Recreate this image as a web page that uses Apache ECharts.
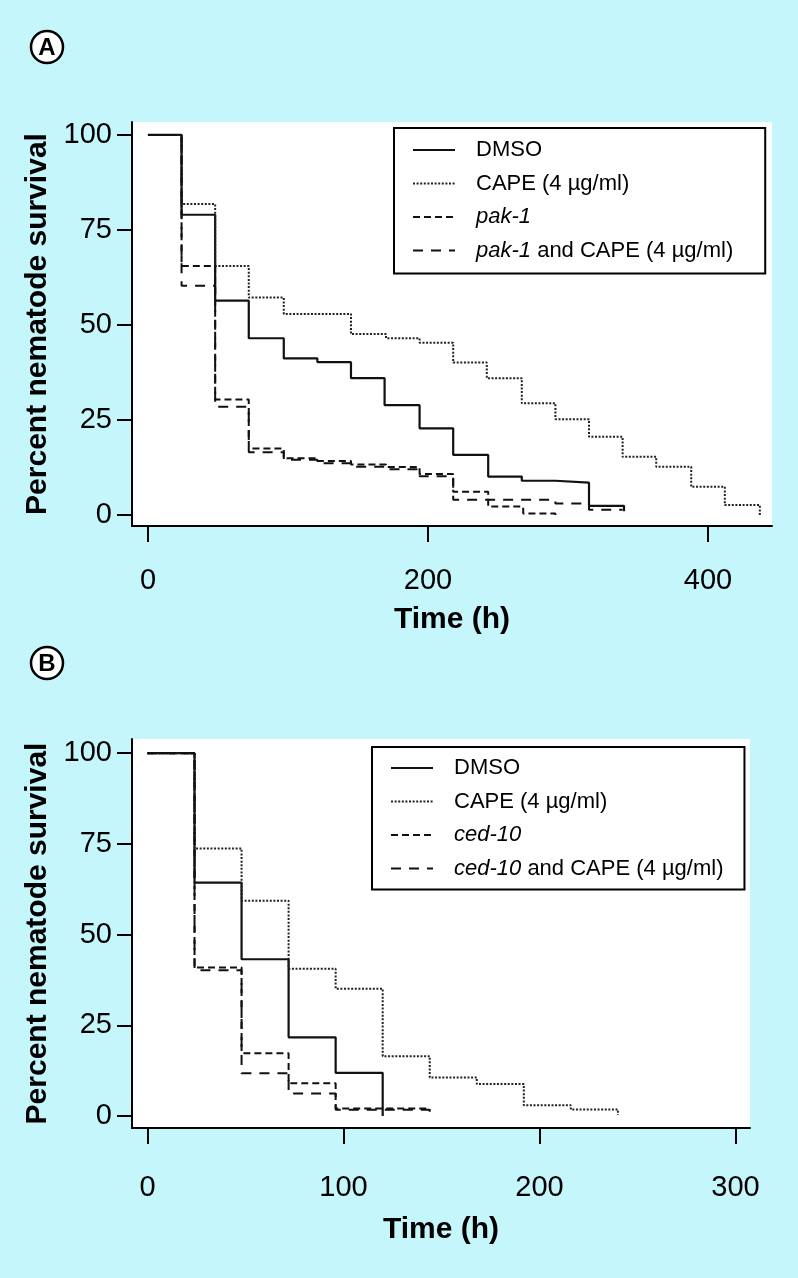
<!DOCTYPE html>
<html>
<head>
<meta charset="utf-8">
<script src="https://cdn.jsdelivr.net/npm/echarts@6/dist/echarts.min.js"></script>
<style>
  html, body { margin: 0; padding: 0; background: #c5f6fb; }
  #chart { width: 798px; height: 1278px; }
</style>
</head>
<body>
<div id="chart"></div>
<script>
// ---------- Panel A data (time in h, percent survival) ----------
const A_DMSO_T = [0, 24, 48, 72, 97, 121, 145, 169, 194, 218, 243, 267, 291, 315, 340];
const A_DMSO_S = [100, 79, 56.4, 46.5, 41.2, 40.2, 36.0, 28.9, 22.8, 15.8, 10.1, 9.0, 8.5, 2.4, 1.0];
const A_CAPE_T = [0, 24, 48, 72, 97, 145, 170, 194, 218, 242, 267, 291, 315, 339, 363, 388, 412, 437];
const A_CAPE_S = [100, 81.8, 65.5, 57.2, 52.9, 47.6, 46.5, 45.3, 40.1, 36.0, 29.4, 25.2, 20.6, 15.3, 12.7, 7.4, 2.6, 0];
const A_PAK_T = [0, 24, 48, 72, 97, 121, 145, 170, 194, 218, 243, 268, 291];
const A_PAK_S = [100, 65.5, 30.4, 17.5, 14.9, 14.2, 13.3, 12.6, 10.8, 6.1, 2.2, 0.4, 0.0];
const A_PAKC_T = [0, 24, 48, 72, 97, 121, 145, 170, 194, 218, 291, 315, 339];
const A_PAKC_S = [100, 60.3, 28.5, 16.5, 14.5, 13.6, 12.7, 12.0, 10.2, 4.0, 3.0, 1.4, 1.4];

// ---------- Panel B data ----------
const B_DMSO_T = [0, 24, 48, 72, 96, 120];
const B_DMSO_S = [100, 64.3, 43.2, 21.7, 11.9, 0];
const B_CAPE_T = [0, 24, 48, 72, 96, 120, 144, 168, 192, 216, 240];
const B_CAPE_S = [100, 73.7, 59.3, 40.6, 35.1, 16.5, 10.6, 8.8, 3.0, 1.8, 0.3];
const B_CED_T = [0, 24, 48, 72, 96, 144];
const B_CED_S = [100, 40.9, 17.3, 9.0, 2.1, 1.2];
const B_CEDC_T = [0, 24, 48, 72, 96, 144];
const B_CEDC_S = [100, 40.2, 11.8, 6.2, 1.7, 1.7];

// ---------- labels ----------
const A_NAMES = ['DMSO', 'CAPE (4 µg/ml)', 'pak-1', 'pak-1 and CAPE (4 µg/ml)'];
const B_NAMES = ['DMSO', 'CAPE (4 µg/ml)', 'ced-10', 'ced-10 and CAPE (4 µg/ml)'];
const Y_TICKS = [0, 25, 50, 75, 100];
const A_X_TICKS = [0, 200, 400];
const B_X_TICKS = [0, 100, 200, 300];
const Y_TITLE = 'Percent nematode survival';
const X_TITLE = 'Time (h)';

const FONT = '"Liberation Sans", Arial, Helvetica, sans-serif';
const BG = '#c5f6fb';

const pairs = (t, s) => t.map((v, i) => [v, s[i]]);

const STYLES = [
  { type: 'solid', width: 2.2, color: '#111' },
  { type: [2, 1.6], width: 2, color: '#222' },
  { type: [7, 4], width: 2, color: '#111' },
  { type: [10, 8], width: 2, color: '#111' }
];

function mkSeries(name, t, s, k, idx) {
  return {
    type: 'line', name: name, step: 'end', symbol: 'none',
    xAxisIndex: idx, yAxisIndex: idx,
    data: pairs(t, s),
    lineStyle: STYLES[k], itemStyle: { color: STYLES[k].color },
    animation: false, silent: true
  };
}

function xAxis(idx, min, max, ticks, labelMargin, nameGap) {
  return {
    gridIndex: idx, type: 'value', min: min, max: max,
    axisLine: { show: true, onZero: false, lineStyle: { color: '#000', width: 2 } },
    axisTick: { show: true, customValues: ticks, length: 16, lineStyle: { color: '#000', width: 2 } },
    axisLabel: { customValues: ticks, fontSize: 29, color: '#000', margin: labelMargin, fontFamily: FONT },
    splitLine: { show: false },
    name: X_TITLE, nameLocation: 'middle', nameGap: nameGap,
    nameTextStyle: { fontSize: 30, fontWeight: 'bold', color: '#000', fontFamily: FONT }
  };
}
function yAxis(idx, min, max) {
  return {
    gridIndex: idx, type: 'value', min: min, max: max,
    axisLine: { show: true, onZero: false, lineStyle: { color: '#000', width: 2 } },
    axisTick: { show: true, customValues: Y_TICKS, length: 15, lineStyle: { color: '#000', width: 2 } },
    axisLabel: { customValues: Y_TICKS, fontSize: 29, color: '#000', margin: 20, fontFamily: FONT },
    splitLine: { show: false },
    name: Y_TITLE, nameLocation: 'middle', nameGap: 71, nameRotate: 90,
    nameTextStyle: { fontSize: 30, fontWeight: 'bold', color: '#000', fontFamily: FONT }
  };
}

function legendFmt(name) {
  const m = name.match(/^(pak-1|ced-10)(.*)$/);
  if (m) return '{i|' + m[1] + '}' + (m[2] ? '{n|' + m[2] + '}' : '');
  return '{n|' + name + '}';
}
function legend(left, top, names, padR, gap, padT, padB) {
  return {
    left: left, top: top, orient: 'vertical', data: names,
    itemWidth: 42, itemHeight: 14, itemGap: gap,
    backgroundColor: '#fff', borderColor: '#000', borderWidth: 2,
    padding: [padT, padR, padB, 18], selectedMode: false,
    itemStyle: { opacity: 0 },
    formatter: legendFmt,
    textStyle: {
      color: '#000', fontSize: 22, fontFamily: FONT, lineHeight: 24, padding: [0, 0, 0, 16],
      rich: {
        i: { fontStyle: 'italic', fontSize: 22, fontFamily: FONT, color: '#000' },
        n: { fontSize: 22, fontFamily: FONT, color: '#000' }
      }
    }
  };
}

const chart = echarts.init(document.getElementById('chart'), null, { renderer: 'canvas' });
chart.setOption({
  backgroundColor: BG,
  animation: false,
  grid: [
    { left: 132, top: 122, width: 640, height: 404, show: true, backgroundColor: '#fff', borderWidth: 0 },
    { left: 132, top: 739, width: 618, height: 389, show: true, backgroundColor: '#fff', borderWidth: 0 }
  ],
  xAxis: [xAxis(0, -11.4, 445.7, A_X_TICKS, 40, 79), xAxis(1, -7.9, 307.4, B_X_TICKS, 45, 87)],
  yAxis: [yAxis(0, -2.9, 103.4), yAxis(1, -3.3, 103.9)],
  legend: [legend(394, 128, A_NAMES, 32, 9.5, 10, 11), legend(372, 747, B_NAMES, 21, 9.5, 9, 9)],
  series: [
    mkSeries(A_NAMES[0], A_DMSO_T, A_DMSO_S, 0, 0),
    mkSeries(A_NAMES[1], A_CAPE_T, A_CAPE_S, 1, 0),
    mkSeries(A_NAMES[2], A_PAK_T, A_PAK_S, 2, 0),
    mkSeries(A_NAMES[3], A_PAKC_T, A_PAKC_S, 3, 0),
    mkSeries(B_NAMES[0], B_DMSO_T, B_DMSO_S, 0, 1),
    mkSeries(B_NAMES[1], B_CAPE_T, B_CAPE_S, 1, 1),
    mkSeries(B_NAMES[2], B_CED_T, B_CED_S, 2, 1),
    mkSeries(B_NAMES[3], B_CEDC_T, B_CEDC_S, 3, 1)
  ],
  graphic: [
    { type: 'circle', shape: { cx: 47, cy: 47, r: 16 }, style: { fill: '#fff', stroke: '#000', lineWidth: 2.5 } },
    { type: 'text', x: 47, y: 48, style: { text: 'A', font: 'bold 24px ' + FONT, fill: '#000', align: 'center', verticalAlign: 'middle' } },
    { type: 'circle', shape: { cx: 47, cy: 663, r: 16 }, style: { fill: '#fff', stroke: '#000', lineWidth: 2.5 } },
    { type: 'text', x: 47, y: 664, style: { text: 'B', font: 'bold 24px ' + FONT, fill: '#000', align: 'center', verticalAlign: 'middle' } }
  ]
});
</script>
</body>
</html>
